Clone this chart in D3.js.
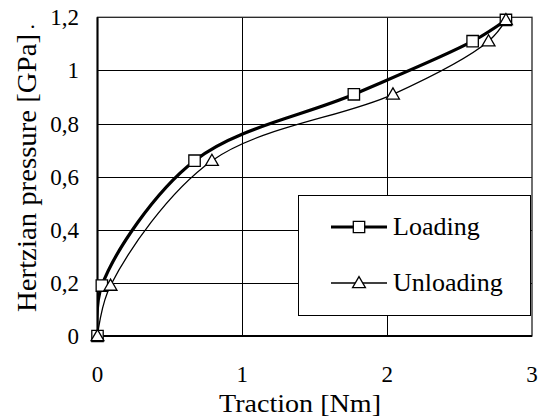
<!DOCTYPE html>
<html>
<head>
<meta charset="utf-8">
<style>
  body { margin: 0; background: #fff; }
  svg { display: block; }
  .grid line { stroke: #000; stroke-width: 1; }
</style>
</head>
<body>
<svg width="539" height="419"></svg>
<script src="https://d3js.org/d3.v7.min.js"></script>
<script>
  // values
  const loadingX = [0, 0.03, 0.67, 1.77, 2.59, 2.82];
  const loadingY = [0, 0.19, 0.66, 0.91, 1.11, 1.19];
  const unloadingX = [0, 0.09, 0.79, 2.04, 2.70, 2.82];
  const unloadingY = [0, 0.19, 0.66, 0.91, 1.11, 1.19];
  const xTicks = [0, 1, 2, 3];
  const yTicks = [0, 0.2, 0.4, 0.6, 0.8, 1, 1.2];

  const FONT = '"Liberation Serif", "Times New Roman", serif';

  const svg = d3.select("svg");
  const margin = { top: 17.3, right: 7, bottom: 83, left: 97.5 };
  const width = 539, height = 419;

  const x = d3.scaleLinear().domain([0, 3]).range([margin.left, width - margin.right]);
  const y = d3.scaleLinear().domain([0, 1.2]).range([height - margin.bottom, margin.top]);

  const fmt = d => d3.format("~g")(d).replace(".", ",");

  const addText = (g, size) => g.append("text")
    .style("font-family", FONT).style("font-size", size + "px").attr("fill", "#000");

  // grid
  const grid = svg.append("g").attr("class", "grid");
  grid.selectAll(".h").data(yTicks.slice(1, -1)).join("line")
    .attr("x1", x(0)).attr("x2", x(3))
    .attr("y1", d => Math.round(y(d)) + 0.5).attr("y2", d => Math.round(y(d)) + 0.5);
  grid.selectAll(".v").data(xTicks.slice(1, -1)).join("line")
    .attr("x1", d => Math.round(x(d)) + 0.5).attr("x2", d => Math.round(x(d)) + 0.5)
    .attr("y1", y(0)).attr("y2", y(1.2));

  // plot frame
  svg.append("rect")
    .attr("x", x(0)).attr("y", y(1.2))
    .attr("width", x(3) - x(0)).attr("height", y(0) - y(1.2))
    .attr("fill", "none").attr("stroke", "#222").attr("stroke-width", 1.3);
  svg.append("line").attr("x1", x(0)).attr("x2", x(0)).attr("y1", y(0)).attr("y2", y(1.2))
    .attr("stroke", "#000").attr("stroke-width", 2);
  svg.append("line").attr("x1", x(0)).attr("x2", x(3)).attr("y1", y(0)).attr("y2", y(0))
    .attr("stroke", "#000").attr("stroke-width", 2);

  // tick labels
  const yl = svg.append("g");
  yTicks.forEach(t => addText(yl, 23)
    .attr("x", 79).attr("y", y(t)).attr("dy", "0.35em").attr("text-anchor", "end").text(fmt(t)));
  const xl = svg.append("g");
  xTicks.forEach(t => addText(xl, 23)
    .attr("x", x(t)).attr("y", 382).attr("text-anchor", "middle").text(fmt(t)));

  // axis titles
  addText(svg, 26).attr("x", 300).attr("y", 412).attr("text-anchor", "middle")
    .attr("textLength", 162).attr("lengthAdjust", "spacingAndGlyphs")
    .text("Traction [Nm]");
  addText(svg, 27).attr("transform", "translate(36,173) rotate(-90)").attr("text-anchor", "middle")
    .attr("textLength", 278).attr("lengthAdjust", "spacingAndGlyphs")
    .text("Hertzian pressure [GPa]");
  addText(svg, 22).attr("x", 30).attr("y", 28).text(".");

  const loading = loadingX.map((v, i) => [v, loadingY[i]]);
  const unloading = unloadingX.map((v, i) => [v, unloadingY[i]]);

  svg.append("clipPath").attr("id", "plot")
    .append("rect").attr("x", x(0)).attr("y", y(1.2) - 10)
    .attr("width", x(3) - x(0)).attr("height", y(0) - y(1.2) + 10);

  const line = d3.line()
    .x(d => x(d[0])).y(d => y(d[1]))
    .curve(d3.curveCatmullRom.alpha(0.5));

  const lines = svg.append("g").attr("clip-path", "url(#plot)");
  lines.append("path").datum(unloading)
    .attr("d", line).attr("fill", "none").attr("stroke", "#000").attr("stroke-width", 1.3);
  lines.append("path").datum(loading)
    .attr("d", line).attr("fill", "none").attr("stroke", "#000").attr("stroke-width", 3.2);

  const square = d3.symbol().type(d3.symbolSquare).size(130);
  const triangle = d3.symbol().type(d3.symbolTriangle).size(72);

  svg.append("g").selectAll("path").data(loading).join("path")
    .attr("transform", d => `translate(${x(d[0])},${y(d[1])})`)
    .attr("d", square).attr("fill", "#fff").attr("stroke", "#000").attr("stroke-width", 1.3);
  svg.append("g").selectAll("path").data(unloading).join("path")
    .attr("transform", d => `translate(${x(d[0])},${y(d[1]) + 1})`)
    .attr("d", triangle).attr("fill", "#fff").attr("stroke", "#000").attr("stroke-width", 1.3);

  // legend
  const lg = svg.append("g");
  lg.append("rect").attr("x", 298.5).attr("y", 195.5).attr("width", 232).attr("height", 120)
    .attr("fill", "#fff").attr("stroke", "#000").attr("stroke-width", 1);
  const items = [
    { name: "Loading", y: 227, w: 3.2, sym: square, dy: 0 },
    { name: "Unloading", y: 283, w: 1.3, sym: triangle, dy: 1 }
  ];
  items.forEach(it => {
    lg.append("line").attr("x1", 331).attr("x2", 387).attr("y1", it.y).attr("y2", it.y)
      .attr("stroke", "#000").attr("stroke-width", it.w);
    lg.append("path").attr("transform", `translate(359,${it.y + it.dy})`)
      .attr("d", it.sym).attr("fill", "#fff").attr("stroke", "#000").attr("stroke-width", 1.3);
    addText(lg, 26).attr("x", 393).attr("y", it.y).attr("dy", "0.3em").text(it.name);
  });
</script>
</body>
</html>
